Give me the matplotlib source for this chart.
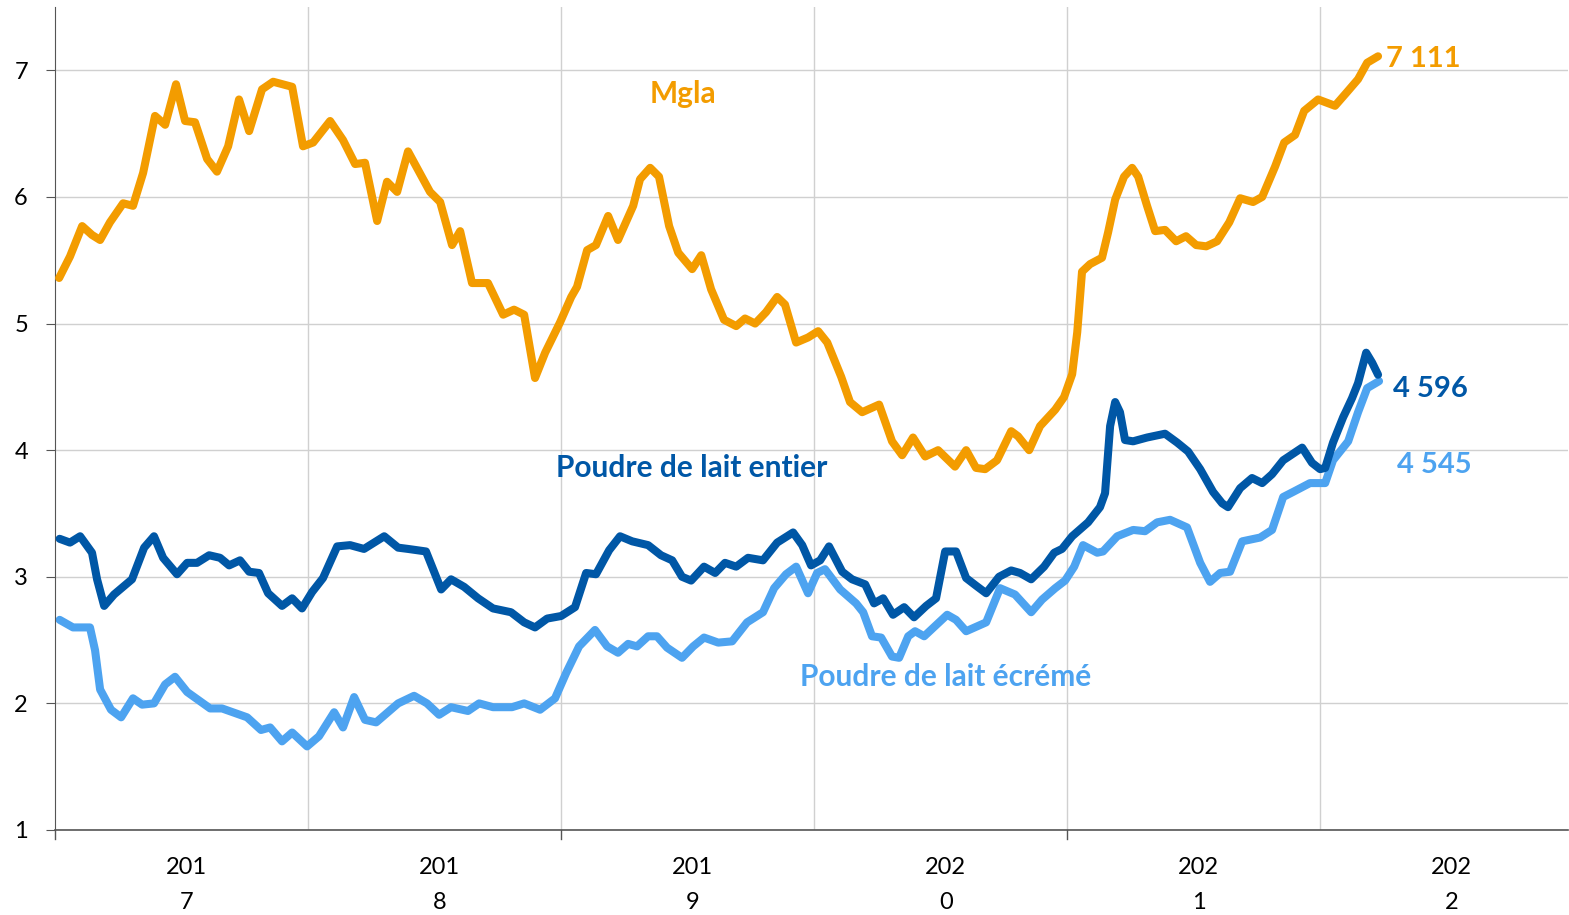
import matplotlib.pyplot as plt

# x en annees decimales, y en milliers
mgla_x = [2017.016, 2017.059, 2017.107, 2017.146, 2017.178, 2017.217, 2017.269, 2017.308,
          2017.348, 2017.395, 2017.435, 2017.478, 2017.514, 2017.553, 2017.601, 2017.640,
          2017.684, 2017.727, 2017.767, 2017.818, 2017.862, 2017.937, 2017.980, 2018.020,
          2018.087, 2018.138, 2018.186, 2018.225, 2018.273, 2018.312, 2018.352, 2018.395,
          2018.482, 2018.522, 2018.569, 2018.601, 2018.648, 2018.711, 2018.771, 2018.814,
          2018.854, 2018.897, 2018.937, 2018.996, 2019.040, 2019.063, 2019.103, 2019.138,
          2019.186, 2019.225, 2019.285, 2019.312, 2019.352, 2019.387, 2019.427, 2019.463,
          2019.518, 2019.554, 2019.593, 2019.644, 2019.692, 2019.727, 2019.767, 2019.810,
          2019.854, 2019.885, 2019.929, 2019.976, 2020.016, 2020.052, 2020.107, 2020.142,
          2020.190, 2020.257, 2020.308, 2020.348, 2020.391, 2020.439, 2020.490, 2020.557,
          2020.601, 2020.640, 2020.676, 2020.723, 2020.779, 2020.806, 2020.850, 2020.893,
          2020.953, 2020.988, 2021.020, 2021.040, 2021.059, 2021.091, 2021.138, 2021.162,
          2021.190, 2021.225, 2021.257, 2021.281, 2021.316, 2021.348, 2021.387, 2021.431,
          2021.470, 2021.510, 2021.550, 2021.593, 2021.641, 2021.684, 2021.735, 2021.771,
          2021.822, 2021.858, 2021.901, 2021.937, 2021.992, 2022.059, 2022.107, 2022.150,
          2022.186, 2022.229]
mgla_y = [5.36, 5.53, 5.77, 5.70, 5.66, 5.80, 5.95, 5.93,
          6.19, 6.64, 6.57, 6.89, 6.60, 6.59, 6.30, 6.20,
          6.40, 6.77, 6.52, 6.85, 6.91, 6.87, 6.40, 6.43,
          6.60, 6.45, 6.26, 6.27, 5.81, 6.12, 6.04, 6.36,
          6.04, 5.96, 5.62, 5.73, 5.32, 5.32, 5.07, 5.11,
          5.07, 4.57, 4.77, 5.01, 5.21, 5.29, 5.58, 5.62,
          5.85, 5.66, 5.93, 6.14, 6.23, 6.16, 5.77, 5.56,
          5.43, 5.54, 5.27, 5.03, 4.98, 5.04, 5.00, 5.09,
          5.21, 5.15, 4.85, 4.89, 4.94, 4.85, 4.58, 4.38,
          4.30, 4.36, 4.07, 3.96, 4.10, 3.95, 4.00, 3.87,
          4.00, 3.86, 3.85, 3.92, 4.15, 4.11, 4.00, 4.19,
          4.32, 4.42, 4.60, 4.93, 5.41, 5.47, 5.52, 5.72,
          5.98, 6.16, 6.23, 6.16, 5.93, 5.73, 5.74, 5.65,
          5.69, 5.62, 5.61, 5.65, 5.80, 5.99, 5.96, 6.00,
          6.24, 6.43, 6.49, 6.68, 6.77, 6.72, 6.83, 6.93,
          7.06, 7.111]

entier_x = [2017.018, 2017.059, 2017.099, 2017.146, 2017.166, 2017.194, 2017.233, 2017.304,
            2017.352, 2017.391, 2017.427, 2017.482, 2017.522, 2017.561, 2017.609, 2017.652,
            2017.688, 2017.731, 2017.767, 2017.806, 2017.842, 2017.897, 2017.937, 2017.976,
            2018.016, 2018.059, 2018.115, 2018.166, 2018.221, 2018.301, 2018.356, 2018.395,
            2018.466, 2018.490, 2018.526, 2018.565, 2018.617, 2018.672, 2018.731, 2018.802,
            2018.854, 2018.897, 2018.945, 2019.000, 2019.055, 2019.099, 2019.138, 2019.190,
            2019.233, 2019.281, 2019.344, 2019.395, 2019.439, 2019.478, 2019.514, 2019.565,
            2019.609, 2019.648, 2019.692, 2019.739, 2019.798, 2019.854, 2019.917, 2019.953,
            2019.988, 2020.024, 2020.059, 2020.111, 2020.150, 2020.202, 2020.237, 2020.273,
            2020.312, 2020.356, 2020.395, 2020.443, 2020.482, 2020.518, 2020.561, 2020.601,
            2020.640, 2020.680, 2020.731, 2020.779, 2020.814, 2020.858, 2020.909, 2020.949,
            2020.980, 2021.020, 2021.083, 2021.130, 2021.150, 2021.170, 2021.190, 2021.209,
            2021.229, 2021.261, 2021.316, 2021.387, 2021.435, 2021.478, 2021.526, 2021.577,
            2021.613, 2021.636, 2021.684, 2021.731, 2021.771, 2021.810, 2021.854, 2021.929,
            2021.968, 2022.000, 2022.020, 2022.051, 2022.091, 2022.126, 2022.150, 2022.182,
            2022.206, 2022.229]
entier_y = [3.30, 3.27, 3.32, 3.19, 2.98, 2.77, 2.86, 2.98,
            3.23, 3.32, 3.15, 3.02, 3.11, 3.11, 3.17, 3.15,
            3.09, 3.13, 3.04, 3.03, 2.87, 2.77, 2.83, 2.75,
            2.88, 2.99, 3.24, 3.25, 3.22, 3.32, 3.23, 3.22,
            3.20, 3.08, 2.90, 2.98, 2.92, 2.83, 2.75, 2.72,
            2.64, 2.60, 2.67, 2.69, 2.76, 3.03, 3.02, 3.21,
            3.32, 3.28, 3.25, 3.17, 3.13, 3.00, 2.97, 3.08,
            3.03, 3.11, 3.08, 3.15, 3.13, 3.27, 3.35, 3.25,
            3.09, 3.13, 3.24, 3.04, 2.98, 2.94, 2.79, 2.83,
            2.70, 2.76, 2.68, 2.77, 2.83, 3.20, 3.20, 2.99,
            2.93, 2.87, 3.00, 3.05, 3.03, 2.98, 3.08, 3.19,
            3.22, 3.32, 3.43, 3.55, 3.66, 4.19, 4.38, 4.30,
            4.08, 4.07, 4.10, 4.13, 4.06, 3.99, 3.85, 3.67,
            3.58, 3.55, 3.70, 3.78, 3.74, 3.81, 3.92, 4.02,
            3.90, 3.85, 3.86, 4.06, 4.26, 4.41, 4.53, 4.77,
            4.69, 4.596]

ecreme_x = [2017.018, 2017.071, 2017.138, 2017.158, 2017.178, 2017.221, 2017.261, 2017.308,
            2017.344, 2017.391, 2017.435, 2017.474, 2017.522, 2017.613, 2017.660, 2017.759,
            2017.814, 2017.850, 2017.897, 2017.937, 2017.996, 2018.043, 2018.103, 2018.138,
            2018.182, 2018.225, 2018.269, 2018.356, 2018.419, 2018.470, 2018.518, 2018.565,
            2018.632, 2018.676, 2018.731, 2018.806, 2018.854, 2018.917, 2018.976, 2019.020,
            2019.071, 2019.134, 2019.182, 2019.225, 2019.265, 2019.300, 2019.344, 2019.379,
            2019.419, 2019.478, 2019.522, 2019.565, 2019.621, 2019.676, 2019.735, 2019.798,
            2019.842, 2019.889, 2019.929, 2019.976, 2020.012, 2020.043, 2020.103, 2020.166,
            2020.194, 2020.229, 2020.265, 2020.308, 2020.336, 2020.372, 2020.399, 2020.435,
            2020.526, 2020.561, 2020.601, 2020.680, 2020.735, 2020.794, 2020.858, 2020.901,
            2020.953, 2020.992, 2021.028, 2021.063, 2021.119, 2021.142, 2021.198, 2021.261,
            2021.308, 2021.356, 2021.407, 2021.474, 2021.526, 2021.565, 2021.605, 2021.644,
            2021.692, 2021.763, 2021.810, 2021.854, 2021.893, 2021.960, 2022.020, 2022.051,
            2022.111, 2022.150, 2022.186, 2022.233]
ecreme_y = [2.66, 2.60, 2.60, 2.42, 2.11, 1.95, 1.89, 2.04,
            1.99, 2.00, 2.15, 2.21, 2.09, 1.96, 1.96, 1.89,
            1.79, 1.81, 1.70, 1.77, 1.66, 1.74, 1.93, 1.81,
            2.05, 1.87, 1.85, 2.00, 2.06, 2.00, 1.91, 1.97,
            1.94, 2.00, 1.97, 1.97, 2.00, 1.95, 2.04, 2.24,
            2.45, 2.58, 2.45, 2.40, 2.47, 2.45, 2.53, 2.53,
            2.44, 2.36, 2.45, 2.52, 2.48, 2.49, 2.64, 2.72,
            2.91, 3.02, 3.08, 2.87, 3.03, 3.06, 2.90, 2.79,
            2.72, 2.53, 2.52, 2.37, 2.36, 2.53, 2.57, 2.53,
            2.70, 2.66, 2.57, 2.64, 2.91, 2.86, 2.72, 2.82,
            2.91, 2.97, 3.08, 3.25, 3.19, 3.20, 3.32, 3.37,
            3.36, 3.43, 3.45, 3.39, 3.11, 2.96, 3.03, 3.04,
            3.28, 3.31, 3.37, 3.63, 3.67, 3.74, 3.74, 3.92,
            4.07, 4.30, 4.49, 4.545]

annees = [2017, 2018, 2019, 2020, 2021, 2022]
labels_annees = ['201\n7', '201\n8', '201\n9', '202\n0', '202\n1', '202\n2']

orange = '#F39C00'
bleu = '#0057A6'
bleu_clair = '#4DA3F0'

plt.rcParams['font.family'] = ['Lato', 'DejaVu Sans']

fig = plt.figure(figsize=(15.69, 9.15), dpi=100)
ax = fig.add_axes([0.0351, 0.0929, 0.9643, 0.8994])

ep = 5.8
ax.plot(mgla_x, mgla_y, color=orange, lw=ep, solid_joinstyle='round', solid_capstyle='round', zorder=3)
ax.plot(entier_x, entier_y, color=bleu, lw=ep, solid_joinstyle='round', solid_capstyle='round', zorder=3)
ax.plot(ecreme_x, ecreme_y, color=bleu_clair, lw=ep, solid_joinstyle='round', solid_capstyle='round', zorder=2)

ax.set_xlim(2017, 2022.98)
ax.set_ylim(1, 7.5)

# grille
ax.set_yticks(range(1, 8))
ax.set_xticks(annees[1:])
ax.tick_params(axis='x', which='major', length=0, labelbottom=False)
ax.grid(True, color='#D0D0D0', lw=1)
ax.set_axisbelow(True)
for a in [2017, 2019, 2021]:
    ax.plot([a, a], [1, 0.93], color='#555555', lw=1, clip_on=False)

ax.set_xticks([a + 0.52 for a in annees], minor=True)
ax.set_xticklabels(labels_annees, minor=True, fontsize=17, linespacing=1.8)
ax.tick_params(axis='x', which='minor', length=0, pad=19.5)
ax.tick_params(axis='y', length=6.5, color='#555555', labelsize=17, pad=13)

for s in ['top', 'right']:
    ax.spines[s].set_visible(False)
ax.spines['left'].set_color('#555555')
ax.spines['bottom'].set_color('#555555')
ax.spines['bottom'].set_linewidth(1.2)

# etiquettes
def fmt(v):
    return f'{v * 1000:,.0f}'.replace(',', ' ')

ax.text(mgla_x[-1] + 0.03, mgla_y[-1] - 0.025, fmt(mgla_y[-1]), color=orange, fontsize=21,
        fontweight='bold', va='center')
ax.text(entier_x[-1] + 0.06, entier_y[-1] - 0.11, fmt(entier_y[-1]), color=bleu, fontsize=21,
        fontweight='bold', va='center')
ax.text(ecreme_x[-1] + 0.07, ecreme_y[-1] - 0.66, fmt(ecreme_y[-1]), color=bleu_clair, fontsize=21,
        fontweight='bold', va='center')

ax.text(2019.48, 6.81, 'Mgla', color=orange, fontsize=21.5, fontweight='bold', ha='center', va='center')
ax.text(2019.515, 3.86, 'Poudre de lait entier', color=bleu, fontsize=21.5, fontweight='bold',
        ha='center', va='center')
ax.text(2020.52, 2.21, 'Poudre de lait écrémé', color=bleu_clair, fontsize=21.5, fontweight='bold',
        ha='center', va='center')

fig.savefig('out.png', dpi=100)
